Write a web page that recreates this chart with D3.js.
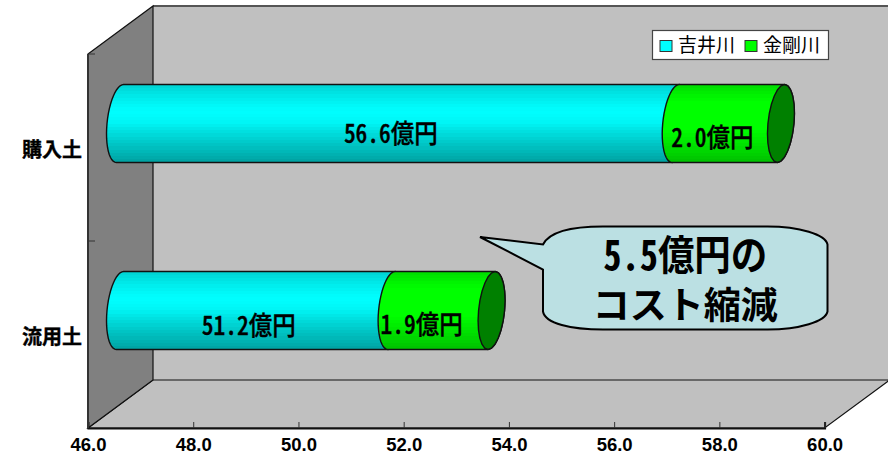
<!DOCTYPE html>
<html lang="ja">
<head>
<meta charset="utf-8">
<title>コスト縮減</title>
<script src="https://cdn.jsdelivr.net/npm/d3@7"></script>
<style>
  html, body { margin: 0; padding: 0; background: #fff; }
  svg { display: block; }
  text { font-family: "Noto Sans CJK JP", sans-serif; fill: #000; }
  .halfwidth { font-feature-settings: "hwid" 1; }
  .tick-label { font-family: "Liberation Sans", Arial, sans-serif; font-weight: 700; font-size: 18.5px; }
</style>
</head>
<body>
<svg id="chart" width="888" height="456"></svg>
<script>
// Soil categories and the cost of each river section, in 億円
const categories = ["購入土", "流用土"];
const seriesNames = ["吉井川", "金剛川"];
const yoshiiValues = [56.6, 51.2];
const kongoValues = [2.0, 1.9];
const axisTicks = [46, 48, 50, 52, 54, 56, 58, 60];
const calloutLines = ["5.5億円の", "コスト縮減"];

const svg = d3.select("#chart");
const defs = svg.append("defs");

// Oblique projection of the 3D box
const depth = { x: 65, y: -48 };
const front = { left: 88, right: 824.6, top: 54, bottom: 428 };
const x = d3.scaleLinear().domain([46, 60]).range([front.left, front.right]);
const y = d3.scaleBand().domain(categories).range([front.top, front.bottom]);

const outline = "#111";
const polygon = pts => "M" + pts.map(p => p.join(",")).join("L") + "Z";

// Back wall, floor and left wall
svg.append("rect")
  .attr("x", front.left + depth.x).attr("y", front.top + depth.y)
  .attr("width", front.right - front.left).attr("height", front.bottom - front.top)
  .attr("fill", "#c0c0c0").attr("stroke", "none");
svg.append("path")
  .attr("d", polygon([[front.left, front.bottom], [front.left + depth.x, front.bottom + depth.y],
    [front.right + depth.x, front.bottom + depth.y], [front.right, front.bottom]]))
  .attr("fill", "#c0c0c0").attr("stroke", outline).attr("stroke-width", 1.2);
svg.append("line")
  .attr("x1", front.left + depth.x).attr("x2", 888)
  .attr("y1", front.top + depth.y).attr("y2", front.top + depth.y)
  .attr("stroke", "#555").attr("stroke-width", 2);
svg.append("path")
  .attr("d", polygon([[front.left, front.top], [front.left + depth.x, front.top + depth.y],
    [front.left + depth.x, front.bottom + depth.y], [front.left, front.bottom]]))
  .attr("fill", "#808080").attr("stroke", outline).attr("stroke-width", 1.2);

// Axes
const xAxis = d3.axisBottom(x).tickValues(axisTicks).tickFormat(d3.format(".1f"))
  .tickSize(-6).tickPadding(10);
const xAxisG = svg.append("g").attr("transform", `translate(0,${front.bottom})`).call(xAxis);
xAxisG.select(".domain").attr("stroke", "#111").attr("stroke-width", 2);
xAxisG.selectAll(".tick line").attr("stroke", "#333").attr("stroke-width", 1);
xAxisG.selectAll("text").attr("class", "tick-label").attr("font-size", null).attr("font-family", null);

const yAxisLine = svg.append("g");
yAxisLine.append("line")
  .attr("x1", front.left).attr("x2", front.left)
  .attr("y1", front.top).attr("y2", front.bottom)
  .attr("stroke", "#333").attr("stroke-width", 2);
yAxisLine.selectAll("line.mark")
  .data([front.top, y(categories[1])])
  .join("line").attr("class", "mark")
  .attr("x1", front.left).attr("x2", front.left + 7)
  .attr("y1", d => d).attr("y2", d => d)
  .attr("stroke", "#333").attr("stroke-width", 1);

svg.selectAll("text.category")
  .data(categories)
  .join("text").attr("class", "category")
  .attr("x", 82).attr("y", d => y(d) + y.bandwidth() / 2 + 9)
  .attr("text-anchor", "end")
  .attr("font-size", 20).attr("font-weight", 700)
  .attr("stroke", "#000").attr("stroke-width", 0.35)
  .text(d => d);

// Banded shading down the cylinder surface
function bandedGradient(id, base, stops) {
  const shade = d3.scaleLinear().domain(stops.map(s => s[0])).range(stops.map(s => s[1]));
  const bands = d3.range(0, 1, 1 / 24);
  const g = defs.append("linearGradient").attr("id", id)
    .attr("x1", 0).attr("x2", 0).attr("y1", 0).attr("y2", 1);
  bands.forEach(t => {
    const color = d3.interpolateRgb("#000", base)(shade(t));
    g.append("stop").attr("offset", t).attr("stop-color", color);
    g.append("stop").attr("offset", t + 1 / 24).attr("stop-color", color);
  });
}
bandedGradient("cyanBand", "#00ffff",
  [[0, 0.84], [0.2, 0.95], [0.32, 1], [0.45, 0.97], [0.7, 0.8], [1, 0.62]]);
bandedGradient("greenBand", "#00ff00",
  [[0, 0.88], [0.2, 1], [0.55, 1], [0.8, 0.86], [1, 0.74]]);

// Cylinder geometry: a sheared ellipse closes each end
const barH = 78, capRx = 13, capShear = 3.6;
const barShift = { x: 30, y: depth.y / 2 };
const capPoint = (cx, cy, t) => [
  cx + capRx * Math.cos(t) + capShear * Math.sin(t),
  cy - barH / 2 * Math.sin(t)
];
const capArc = (cx, cy, t0, t1) =>
  d3.range(0, 25).map(i => capPoint(cx, cy, t0 + (t1 - t0) * i / 24));
const toPath = d3.line();

function segmentPath(x0, x1, cy) {
  return toPath([
    ...capArc(x0, cy, Math.PI / 2, Math.PI * 1.5),
    ...capArc(x1, cy, -Math.PI / 2, Math.PI / 2)
  ]) + "Z";
}

// Half-width gothic text, stretched upward a little so the digits stand tall
function tallLabel(parent, cx, baseline, size, str, weight, stroke) {
  return parent.append("text").attr("class", "halfwidth")
    .attr("transform", `translate(${cx},${baseline}) scale(1,1.13)`)
    .attr("text-anchor", "middle")
    .attr("font-size", size).attr("font-weight", weight)
    .attr("stroke", "#000").attr("stroke-width", stroke)
    .text(str);
}

const labelFmt = v => d3.format(".1f")(v) + "億円";
const labelSize = 23.5;
// Each label sits off its segment's centre, and at its own height on the cylinder
const labelNudge = [
  [{ dx: -7, dy: 19 }, { dx: -16, dy: 23 }],
  [{ dx: -7, dy: 24 }, { dx: -20, dy: 23 }]
];

categories.forEach((cat, i) => {
  const cy = y(cat) + y.bandwidth() / 2 + barShift.y;
  const a = yoshiiValues[i], b = kongoValues[i];
  const base = x.domain()[0];
  const xStart = x(base) + barShift.x + 2, xSplit = x(a) + barShift.x, xEnd = x(a + b) + barShift.x;

  svg.append("path")
    .attr("d", segmentPath(xStart, xSplit, cy))
    .attr("fill", "url(#cyanBand)").attr("stroke", outline).attr("stroke-width", 1.4);
  svg.append("path")
    .attr("d", segmentPath(xSplit, xEnd, cy))
    .attr("fill", "url(#greenBand)").attr("stroke", outline).attr("stroke-width", 1.4);
  svg.append("path")
    .attr("d", toPath(capArc(xEnd, cy, 0, Math.PI * 2)) + "Z")
    .attr("fill", "#008000").attr("stroke", outline).attr("stroke-width", 1.4);

  const [n0, n1] = labelNudge[i];
  tallLabel(svg, (xStart + xSplit) / 2 + n0.dx, cy + n0.dy, labelSize, labelFmt(a), 500, 0.3);
  tallLabel(svg, (xSplit + xEnd) / 2 + n1.dx, cy + n1.dy, labelSize, labelFmt(b), 500, 0.3);
});

// Legend
const legend = svg.append("g");
legend.append("rect")
  .attr("x", 652.5).attr("y", 30.5).attr("width", 176).attr("height", 29)
  .attr("fill", "#fff").attr("stroke", "#444").attr("stroke-width", 1.2);
const legendColors = ["#00ffff", "#00ff00"];
const legendX = d3.scalePoint().domain(seriesNames).range([660, 745]);
seriesNames.forEach((name, i) => {
  legend.append("rect")
    .attr("x", legendX(name)).attr("y", 40.5).attr("width", 12).attr("height", 11)
    .attr("fill", legendColors[i]).attr("stroke", "#333");
  legend.append("text")
    .attr("x", legendX(name) + 18).attr("y", 52)
    .attr("font-size", 19)
    .text(name);
});

// Callout with its pointer
const box = { l: 543, r: 827.5, t: 226.5, b: 329.5 };
const tip = [480, 237];
const calloutPath = d3.path();
calloutPath.moveTo(tip[0], tip[1]);
calloutPath.lineTo(box.l, box.t + 18);
calloutPath.bezierCurveTo(box.l + 6, box.t + 6, box.l + 28, box.t, box.l + 60, box.t);
calloutPath.lineTo(box.r - 60, box.t);
calloutPath.bezierCurveTo(box.r - 28, box.t, box.r - 2, box.t + 8, box.r, box.t + 18);
calloutPath.lineTo(box.r, box.b - 18);
calloutPath.bezierCurveTo(box.r - 2, box.b - 8, box.r - 28, box.b, box.r - 60, box.b);
calloutPath.lineTo(box.l + 60, box.b);
calloutPath.bezierCurveTo(box.l + 28, box.b, box.l + 2, box.b - 6, box.l, box.b - 18);
calloutPath.lineTo(box.l, box.t + 43);
calloutPath.closePath();
svg.append("path")
  .attr("d", calloutPath.toString())
  .attr("fill", "#bbe0e3").attr("stroke", "#000").attr("stroke-width", 2);

const calloutMid = (box.l + box.r) / 2;
tallLabel(svg, calloutMid, 270, 36.5, calloutLines[0], 700, 0);
svg.append("text")
  .attr("x", calloutMid).attr("y", 319)
  .attr("text-anchor", "middle")
  .attr("font-size", 37).attr("font-weight", 700)
  .text(calloutLines[1]);
</script>
</body>
</html>
